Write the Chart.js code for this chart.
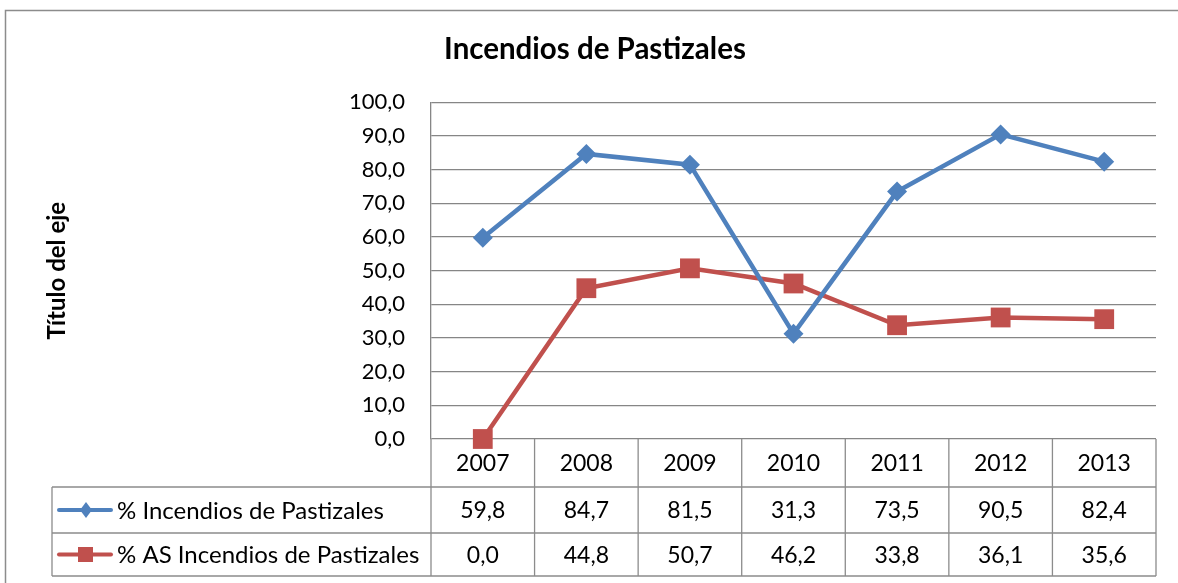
<!DOCTYPE html>
<html>
<head>
<meta charset="utf-8">
<script src="https://cdn.jsdelivr.net/npm/chart.js@4.4.0/dist/chart.umd.min.js"></script>
<style>
  html, body { margin: 0; padding: 0; background: #ffffff; }
  canvas { display: block; }
</style>
</head>
<body>
<canvas id="c" width="1178" height="583"></canvas>
<script>
const years = ['2007', '2008', '2009', '2010', '2011', '2012', '2013'];
const incendios = [59.8, 84.7, 81.5, 31.3, 73.5, 90.5, 82.4];
const asIncendios = [0.0, 44.8, 50.7, 46.2, 33.8, 36.1, 35.6];
const seriesNames = ['% Incendios de Pastizales', '% AS Incendios de Pastizales'];
const yTicks = [0, 10, 20, 30, 40, 50, 60, 70, 80, 90, 100];

const BLUE = '#4F81BD';
const RED = '#C0504D';
const GRID = '#868686';
const FONT = 'Lato, "Open Sans", sans-serif';

function fmt(v) { return v.toFixed(1).replace('.', ','); }

const tablePlugin = {
  id: 'dataTable',
  beforeDraw(chart) {
    const ctx = chart.ctx;
    ctx.save();
    ctx.fillStyle = '#ffffff';
    ctx.fillRect(0, 0, chart.width, chart.height);
    ctx.strokeStyle = '#8c8c8c';
    ctx.lineWidth = 1.5;
    ctx.strokeRect(5.5, 10.5, 1300, 700);
    ctx.restore();
  },
  beforeDatasetsDraw(chart) {
    const ctx = chart.ctx;
    const area = chart.chartArea;
    const xs = chart.scales.x;
    const n = years.length;
    const colW = (area.right - area.left) / n;
    const top = area.bottom;
    const r1 = top + 48;
    const r2 = r1 + 46;
    const r3 = r2 + 43;
    const legLeft = 52;
    ctx.save();
    ctx.strokeStyle = '#8c8c8c';
    ctx.lineWidth = 1.3;
    ctx.beginPath();
    ctx.moveTo(legLeft, r1); ctx.lineTo(area.right, r1);
    ctx.moveTo(legLeft, r2); ctx.lineTo(area.right, r2);
    ctx.moveTo(legLeft, r3); ctx.lineTo(area.right, r3);
    for (let i = 0; i <= n; i++) {
      const x = area.left + i * colW;
      ctx.moveTo(x, top); ctx.lineTo(x, r3);
    }
    ctx.moveTo(legLeft, r1); ctx.lineTo(legLeft, r3);
    ctx.stroke();

    ctx.fillStyle = '#000000';
    ctx.font = '23px ' + FONT;
    ctx.textAlign = 'center';
    ctx.textBaseline = 'middle';
    for (let i = 0; i < n; i++) {
      const cx = xs.getPixelForValue(i);
      ctx.fillText(years[i], cx, (top + r1) / 2 + 1);
      ctx.fillText(fmt(incendios[i]), cx, (r1 + r2) / 2 + 1);
      ctx.fillText(fmt(asIncendios[i]), cx, (r2 + r3) / 2 + 1);
    }
    const rows = [[(r1 + r2) / 2, BLUE, 'diamond'], [(r2 + r3) / 2, RED, 'square']];
    ctx.font = '24px ' + FONT;
    rows.forEach((row, k) => {
      const [cy, col, shape] = row;
      ctx.strokeStyle = col;
      ctx.lineWidth = 4;
      ctx.lineCap = 'round';
      ctx.beginPath();
      ctx.moveTo(59, cy); ctx.lineTo(111, cy);
      ctx.stroke();
      ctx.fillStyle = col;
      ctx.beginPath();
      if (shape === 'diamond') {
        ctx.moveTo(86, cy - 8); ctx.lineTo(92, cy); ctx.lineTo(86, cy + 8); ctx.lineTo(80, cy);
        ctx.closePath();
      } else {
        ctx.rect(78, cy - 7.5, 15, 15);
      }
      ctx.fill();
      ctx.fillStyle = '#000000';
      ctx.textAlign = 'left';
      ctx.fillText(seriesNames[k], 117, cy + 1);
    });
    ctx.restore();
  }
};

new Chart(document.getElementById('c'), {
  type: 'line',
  data: {
    labels: years,
    datasets: [
      {
        label: seriesNames[0],
        data: incendios,
        borderColor: BLUE,
        backgroundColor: BLUE,
        borderWidth: 4.5,
        pointStyle: 'rectRot',
        pointRadius: 10,
        pointHoverRadius: 10,
        pointBorderWidth: 0,
        tension: 0,
        clip: false
      },
      {
        label: seriesNames[1],
        data: asIncendios,
        borderColor: RED,
        backgroundColor: RED,
        borderWidth: 4.5,
        pointStyle: 'rect',
        pointRadius: 14,
        pointHoverRadius: 14,
        pointBorderWidth: 0,
        tension: 0,
        clip: false
      }
    ]
  },
  options: {
    responsive: false,
    animation: false,
    devicePixelRatio: 1,
    layout: { padding: { left: 34, right: 22, top: 0, bottom: 144 } },
    plugins: {
      legend: { display: false },
      tooltip: { enabled: false },
      title: {
        display: true,
        text: 'Incendios de Pastizales',
        color: '#000000',
        font: { family: FONT, size: 29.5, weight: 'bold' },
        padding: { top: 32, bottom: 35 }
      }
    },
    scales: {
      x: {
        display: false,
        offset: true
      },
      y: {
        min: 0,
        max: 100,
        afterFit(scale) { scale.width = 397; },
        afterBuildTicks(scale) { scale.ticks = yTicks.map(v => ({ value: v })); },
        grid: { color: GRID, lineWidth: 1.3, drawTicks: false },
        border: { display: true, color: GRID, width: 1.3 },
        ticks: {
          color: '#000000',
          padding: 26,
          font: { family: FONT, size: 22 },
          callback: (v) => fmt(v)
        },
        title: {
          display: true,
          text: 'Título del eje',
          color: '#000000',
          font: { family: FONT, size: 24, weight: 'bold' },
          padding: { top: 9 }
        }
      }
    }
  },
  plugins: [tablePlugin]
});
</script>
</body>
</html>
